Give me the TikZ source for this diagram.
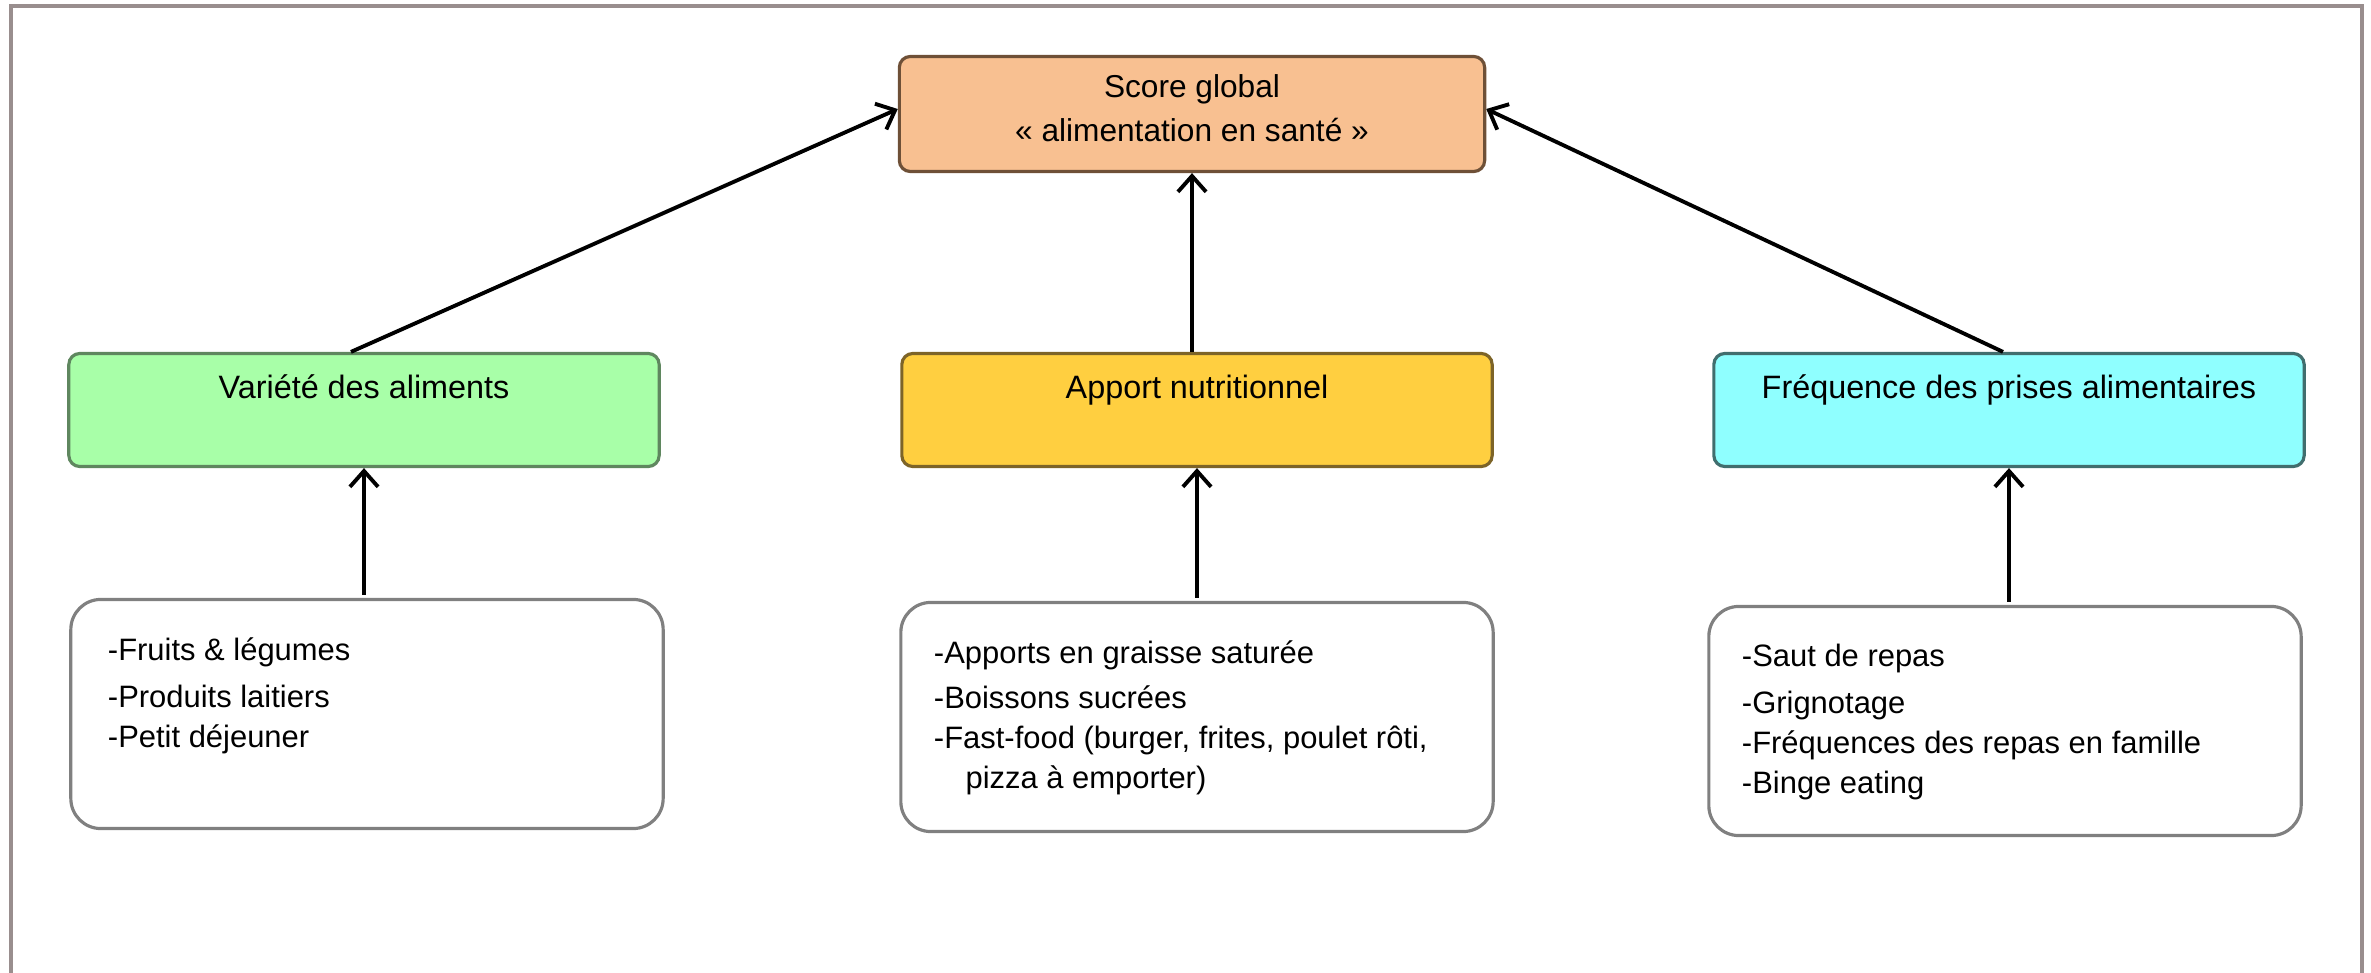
\documentclass[tikz,border=0pt]{standalone}
\usepackage{fontspec}
\setmainfont{Liberation Sans}
\usetikzlibrary{arrows.meta,positioning}
\definecolor{framecol}{RGB}{153,142,142}
\definecolor{topfill}{RGB}{248,192,145}
\definecolor{topdraw}{RGB}{110,80,55}
\definecolor{greenfill}{RGB}{168,255,168}
\definecolor{greendraw}{RGB}{95,135,95}
\definecolor{yellowfill}{RGB}{255,207,64}
\definecolor{yellowdraw}{RGB}{125,100,40}
\definecolor{cyanfill}{RGB}{143,255,255}
\definecolor{cyandraw}{RGB}{65,110,110}
\definecolor{listdraw}{RGB}{128,128,128}
\tikzset{
  box/.style={rectangle, rounded corners=0.11cm, line width=0.9pt, inner sep=0pt,
              minimum width=5.9cm, minimum height=1.13cm},
  topbox/.style={box, draw=topdraw, fill=topfill, minimum width=5.85cm, minimum height=1.15cm},
  midbox/.style={box},
  listbox/.style={rectangle, rounded corners=0.3cm, draw=listdraw, line width=0.9pt, fill=white,
                  minimum width=5.92cm, minimum height=2.29cm, inner sep=0pt},
  title/.style={font=\fontsize{9.2pt}{11pt}\selectfont, inner sep=0pt},
  toptext/.style={font=\fontsize{9pt}{12.4pt}\selectfont, inner sep=0pt, align=center},
  listtext/.style={font=\fontsize{8.8pt}{11.4pt}\selectfont, align=left, inner sep=0pt, anchor=north west},
  arr/.style={line width=1.1pt, -{Straight Barb[length=4.5pt,width=8pt,line width=1.1pt]}}
}
\begin{document}
\begin{tikzpicture}[x=0.01cm,y=-0.01cm]
\useasboundingbox (0,0) rectangle (2371,973);
\draw[framecol, line width=0.04cm] (11,973) -- (11,6) -- (2362,6) -- (2362,973);

% top box
\node[topbox] (top) at (1192,114) {};
\node[toptext] (topt) at (1192,108) {Score global\\« alimentation en santé »};

% middle boxes
\node[midbox, draw=greendraw, fill=greenfill] (green) at (364,410) {};
\node[title, anchor=base] (greent) at (364,399) {Variété des aliments};
\node[midbox, draw=yellowdraw, fill=yellowfill] (yellow) at (1197,410) {};
\node[title, anchor=base] (yellowt) at (1197,399) {Apport nutritionnel};
\node[midbox, draw=cyandraw, fill=cyanfill] (cyan) at (2009,410) {};
\node[title, anchor=base] (cyant) at (2009,399) {Fréquence des prises alimentaires};

% list boxes
\node[listbox] (bl) at (367,714) {};
\node[listbox] (bm) at (1197,717) {};
\node[listbox] (br) at (2005,721) {};

\node[listtext] (blt) at ([xshift=0.38cm,yshift=-0.39cm]bl.north west)
  {-Fruits \& légumes\\[2pt]-Produits laitiers\\-Petit déjeuner};
\node[listtext] (bmt) at ([xshift=0.34cm,yshift=-0.39cm]bm.north west)
  {-Apports en graisse saturée\\[1.5pt]-Boissons sucrées\\-Fast-food (burger, frites, poulet rôti,\\\hspace*{9pt}pizza à emporter)};
\node[listtext] (brt) at ([xshift=0.34cm,yshift=-0.38cm]br.north west)
  {-Saut de repas\\[2pt]-Grignotage\\-Fréquences des repas en famille\\-Binge eating};

% arrows to top
\draw[arr] ([xshift=-0.13cm]green.north) -- ([yshift=0.05cm]top.west);
\draw[arr] (yellow.north -| top.south) -- (top.south);
\draw[arr] ([xshift=-0.06cm]cyan.north) -- ([yshift=0.05cm]top.east);

% arrows from lists
\draw[arr] ([yshift=0.03cm]bl.north -| green.south) -- (green.south);
\draw[arr] ([yshift=0.03cm]bm.north -| yellow.south) -- (yellow.south);
\draw[arr] ([yshift=0.03cm]br.north -| cyan.south) -- (cyan.south);
\end{tikzpicture}
\end{document}
